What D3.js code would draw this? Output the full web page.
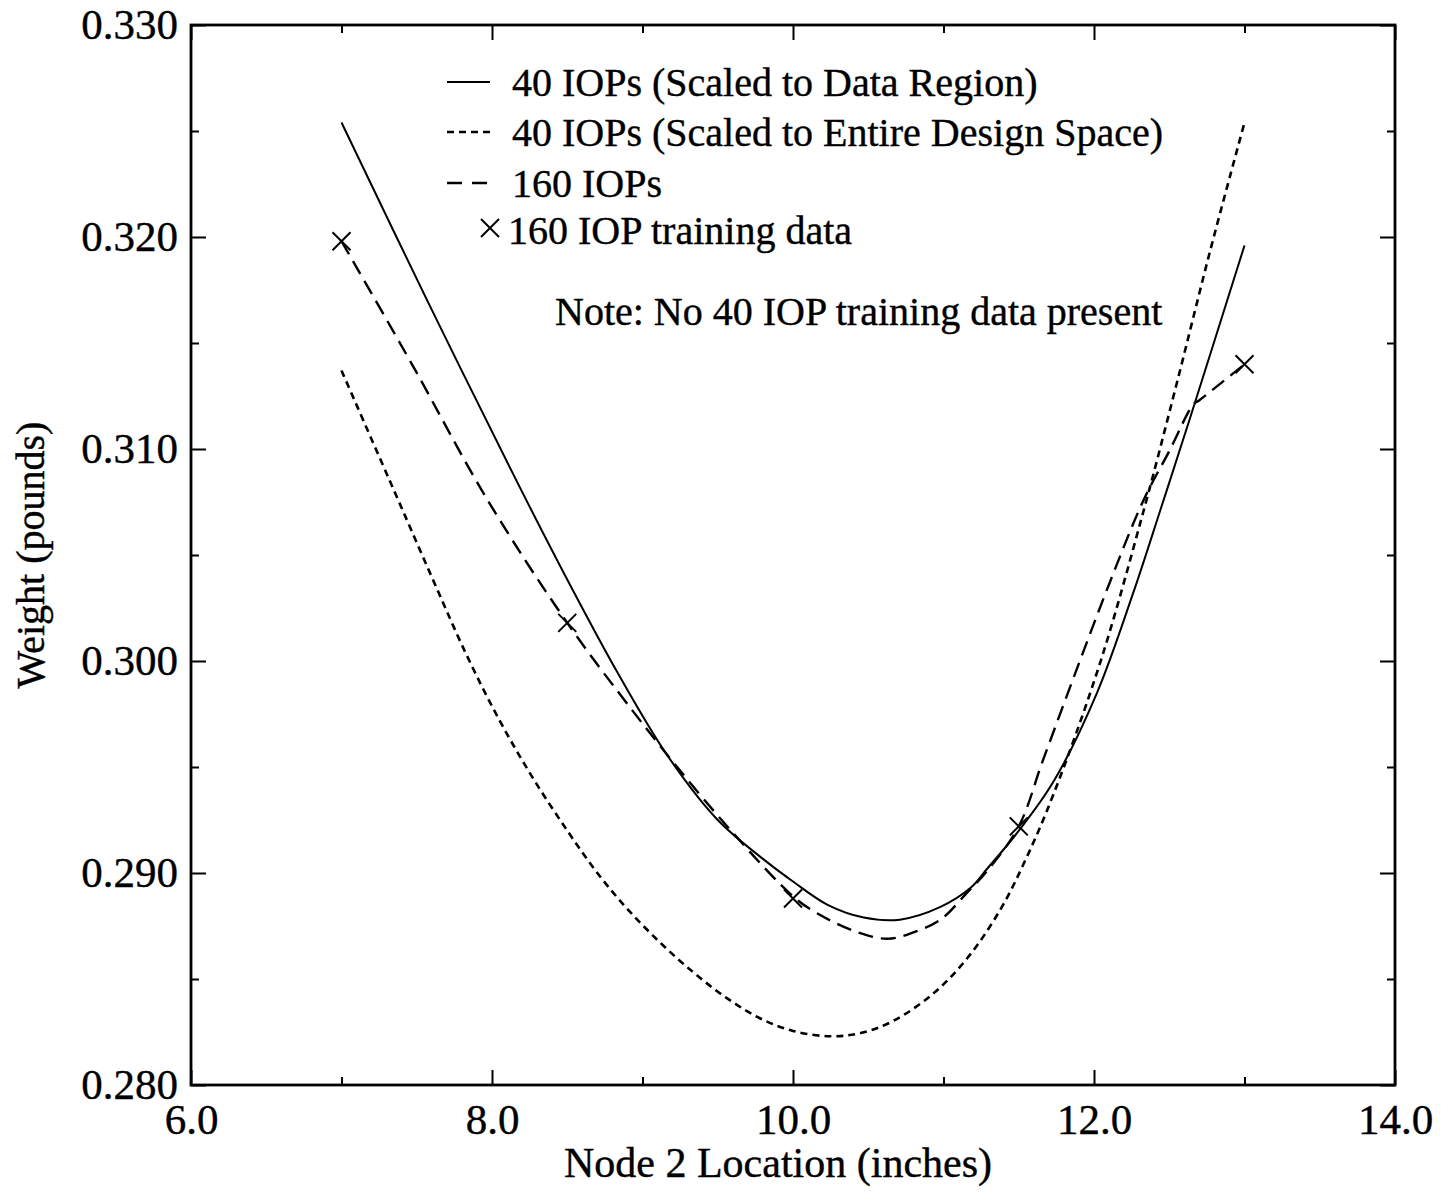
<!DOCTYPE html>
<html>
<head>
<meta charset="utf-8">
<script src="https://cdn.jsdelivr.net/npm/d3@7"></script>
<style>
  body { margin: 0; background: #fff; }
  #chart text { font-family: "Liberation Serif", "Times New Roman", serif; fill: #000; stroke: #000; stroke-width: 0.4px; }
</style>
</head>
<body>
<div id="chart"></div>
<script>

// 40 IOPs, scaled to the data region (solid)
let region_x = [7.0, 7.57, 8.17, 8.54, 8.83, 9.16, 9.50, 9.83, 10.0, 10.23, 10.47, 10.71, 10.98, 11.18, 11.29, 11.49, 11.73, 12.02, 12.26, 12.44, 12.64, 13.0];
let region_y = [0.3254, 0.3170, 0.3084, 0.3033, 0.2995, 0.2956, 0.2925, 0.2905, 0.2896, 0.2885, 0.2879, 0.2878, 0.2884, 0.2893, 0.2902, 0.2919, 0.2943, 0.2985, 0.3032, 0.3071, 0.3115, 0.3196];

// 40 IOPs, scaled to the entire design space (short dash)
let entire_x = [7.0, 7.37, 7.61, 7.83, 8.05, 8.27, 8.5, 8.7, 8.9, 9.12, 9.34, 9.56, 9.78, 10.0, 10.25, 10.45, 10.66, 10.93, 11.16, 11.38, 11.55, 11.73, 12.04, 12.33, 12.55, 12.77, 13.0];
let entire_y = [0.3137, 0.3077, 0.3038, 0.3003, 0.2972, 0.2945, 0.2920, 0.2900, 0.2883, 0.2867, 0.2853, 0.2841, 0.28315, 0.28255, 0.2823, 0.28245, 0.2830, 0.2843, 0.2860, 0.2883, 0.2907, 0.2937, 0.2999, 0.3071, 0.3131, 0.3193, 0.3254];

// 160 IOPs (long dash)
let iop160_x = [7.0, 7.46, 7.97, 8.5, 8.94, 9.23, 9.6, 10.0, 10.16, 10.43, 10.63, 10.8, 10.98, 11.16, 11.29, 11.5, 11.66, 11.89, 12.11, 12.33, 12.5, 12.66, 12.7, 13.0];
let iop160_y = [0.3198, 0.3141, 0.3076, 0.3018, 0.2976, 0.2950, 0.2919, 0.2889, 0.2881, 0.2872, 0.2869, 0.2872, 0.2878, 0.2891, 0.2901, 0.2922, 0.2953, 0.2997, 0.3038, 0.3076, 0.3099, 0.3121, 0.3123, 0.3140];

// 160 IOP training points
let train_x = [7.0, 8.5, 10.0, 11.5, 13.0];
let train_y = [0.3198, 0.3018, 0.2888, 0.2922, 0.3140];

let x_ticks = [6, 8, 10, 12, 14];
let x_minor = [7, 9, 11, 13];
let x_tick_labels = ["6.0", "8.0", "10.0", "12.0", "14.0"];
let y_ticks = [0.28, 0.29, 0.30, 0.31, 0.32, 0.33];
let y_minor = [0.285, 0.295, 0.305, 0.315, 0.325];
let y_tick_labels = ["0.280", "0.290", "0.300", "0.310", "0.320", "0.330"];

let legend_labels = ["40 IOPs (Scaled to Data Region)", "40 IOPs (Scaled to Entire Design Space)", "160 IOPs", "160 IOP training data"];
let note_text = "Note: No 40 IOP training data present";
let x_title = "Node 2 Location (inches)";
let y_title = "Weight (pounds)";


function draw_chart() {

    let chart_width = 1448;
    let chart_height = 1193;

    let margin_top = 25;
    let margin_right = 53;
    let margin_bottom = 108;
    let margin_left = 191;

    let width = chart_width - margin_left - margin_right;
    let height = chart_height - margin_top - margin_bottom;

    let svg = d3.select("#chart")
                .append("svg")
                .attr("width", chart_width)
                .attr("height", chart_height);

    let g = svg.append("g")
               .attr("transform", "translate(" + margin_left + "," + margin_top + ")");

    let xScale = d3.scaleLinear().domain([6, 14]).range([0, width]);
    let yScale = d3.scaleLinear().domain([0.28, 0.33]).range([height, 0]);

    // frame
    g.append("rect")
        .attr("width", width)
        .attr("height", height)
        .attr("fill", "none")
        .attr("stroke", "black")
        .attr("stroke-width", 2.8);

    let major = 15, minor = 8;

    // bottom axis with labels, ticks pointing in
    g.append("g")
        .attr("transform", "translate(0," + height + ")")
        .call(d3.axisBottom(xScale).tickValues(x_ticks)
            .tickSizeInner(-major).tickSizeOuter(0).tickPadding(18)
            .tickFormat((d, i) => x_tick_labels[i]));
    g.append("g")
        .attr("transform", "translate(0," + height + ")")
        .call(d3.axisBottom(xScale).tickValues(x_minor).tickSizeInner(-minor).tickSizeOuter(0).tickFormat(""));

    // top axis, ticks only
    g.append("g")
        .call(d3.axisTop(xScale).tickValues(x_ticks).tickSizeInner(-major).tickSizeOuter(0).tickFormat(""));
    g.append("g")
        .call(d3.axisTop(xScale).tickValues(x_minor).tickSizeInner(-minor).tickSizeOuter(0).tickFormat(""));

    // left axis with labels
    g.append("g")
        .call(d3.axisLeft(yScale).tickValues(y_ticks)
            .tickSizeInner(-major).tickSizeOuter(0).tickPadding(13)
            .tickFormat((d, i) => y_tick_labels[i]));
    g.append("g")
        .call(d3.axisLeft(yScale).tickValues(y_minor).tickSizeInner(-minor).tickSizeOuter(0).tickFormat(""));

    // right axis, ticks only
    g.append("g")
        .attr("transform", "translate(" + width + ",0)")
        .call(d3.axisRight(yScale).tickValues(y_ticks).tickSizeInner(-major).tickSizeOuter(0).tickFormat(""));
    g.append("g")
        .attr("transform", "translate(" + width + ",0)")
        .call(d3.axisRight(yScale).tickValues(y_minor).tickSizeInner(-minor).tickSizeOuter(0).tickFormat(""));

    g.selectAll(".domain").remove();
    g.selectAll(".tick line").attr("stroke", "black").attr("stroke-width", 2);
    g.selectAll(".tick text")
        .style("font-family", "'Liberation Serif', serif")
        .style("font-size", "43px")
        .attr("fill", "black");

    // axis titles
    svg.append("text")
        .attr("x", 778)
        .attr("y", 1177)
        .attr("text-anchor", "middle")
        .style("font-size", "42px")
        .text(x_title);

    svg.append("text")
        .attr("transform", "translate(44," + (margin_top + yScale(0.305)) + ") rotate(-90)")
        .attr("text-anchor", "middle")
        .style("font-size", "40px")
        .text(y_title);

    // series
    let series = [
        { xs: region_x, ys: region_y, dash: null, sw: 2 },
        { xs: entire_x, ys: entire_y, dash: "7,5", sw: 2.6 },
        { xs: iop160_x, ys: iop160_y, dash: "15,8", sw: 2.4 }
    ];

    let line = d3.line()
        .x(d => xScale(d[0]))
        .y(d => yScale(d[1]))
        .curve(d3.curveCatmullRom.alpha(0.5));

    series.forEach(function(s) {
        let pts = s.xs.map((x, i) => [x, s.ys[i]]);
        g.append("path")
            .datum(pts)
            .attr("d", line)
            .attr("fill", "none")
            .attr("stroke", "black")
            .attr("stroke-width", s.sw)
            .attr("stroke-dasharray", s.dash);
    });

    // training markers
    let r = 9;
    let cross = "M" + (-r) + "," + (-r) + "L" + r + "," + r + "M" + (-r) + "," + r + "L" + r + "," + (-r);
    g.selectAll(".train_mark")
        .data(train_x.map((x, i) => [x, train_y[i]]))
        .enter()
        .append("path")
        .attr("class", "train_mark")
        .attr("transform", d => "translate(" + xScale(d[0]) + "," + yScale(d[1]) + ")")
        .attr("d", cross)
        .attr("stroke", "black")
        .attr("stroke-width", 2)
        .attr("fill", "none");

    // legend
    let legend_x0 = 447, legend_x1 = 490, text_x = 512;
    let legend_rows = [82, 132, 183, 230];
    let legend_dash = [null, "7,5", "15,10"];

    for (let i = 0; i < 3; i++) {
        svg.append("line")
            .attr("x1", legend_x0).attr("x2", legend_x1)
            .attr("y1", legend_rows[i]).attr("y2", legend_rows[i])
            .attr("stroke", "black")
            .attr("stroke-width", i == 0 ? 2 : 2.5)
            .attr("stroke-dasharray", legend_dash[i]);
    }
    svg.append("path")
        .attr("transform", "translate(490," + (legend_rows[3] - 2) + ")")
        .attr("d", cross)
        .attr("stroke", "black")
        .attr("stroke-width", 2)
        .attr("fill", "none");

    svg.selectAll(".legend_text")
        .data(legend_labels)
        .enter()
        .append("text")
        .attr("class", "legend_text")
        .attr("x", (d, i) => i == 3 ? 508 : text_x)
        .attr("y", (d, i) => legend_rows[i] + 14)
        .style("font-size", "40px")
        .text(d => d);

    svg.append("text")
        .attr("x", 555)
        .attr("y", 325)
        .style("font-size", "40px")
        .text(note_text);
}

draw_chart();

</script>
</body>
</html>
